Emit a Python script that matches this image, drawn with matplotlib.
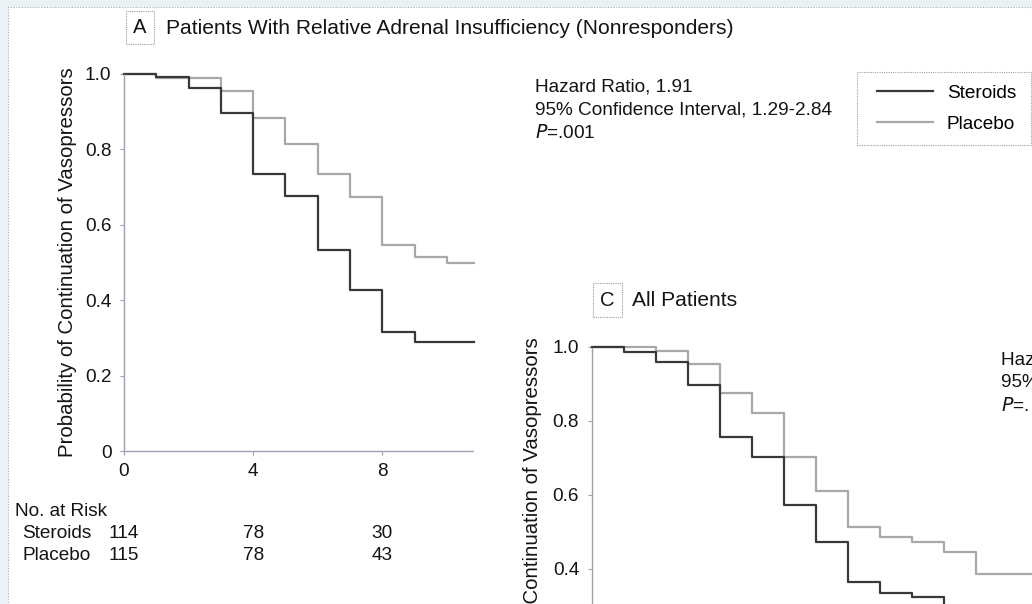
import numpy as np
import matplotlib
matplotlib.use("Agg")
import matplotlib.pyplot as plt
from matplotlib.lines import Line2D
from matplotlib.patches import Rectangle
from matplotlib.transforms import blended_transform_factory

plt.rcParams['font.family'] = ['Liberation Sans', 'DejaVu Sans']

# panel A: nonresponders
a_ster_days = [0, 1, 2, 3, 4, 5, 6, 7, 8, 9, 10.84]
a_ster_prob = [1.0, 0.991, 0.962, 0.896, 0.735, 0.677, 0.533, 0.427, 0.316, 0.288, 0.288]
a_plac_days = [0, 1, 3, 4, 5, 6, 7, 8, 9, 10, 10.84]
a_plac_prob = [1.0, 0.99, 0.956, 0.882, 0.814, 0.735, 0.675, 0.546, 0.515, 0.498, 0.498]

# panel C: all patients
c_ster_days = [0, 1, 2, 3, 4, 5, 6, 7, 8, 9, 10, 11, 12]
c_ster_prob = [1.0, 0.986, 0.958, 0.896, 0.757, 0.703, 0.572, 0.473, 0.363, 0.333, 0.324, 0.28, 0.28]
c_plac_days = [0, 2, 3, 4, 5, 6, 7, 8, 9, 10, 11, 12, 14]
c_plac_prob = [1.0, 0.989, 0.952, 0.876, 0.82, 0.703, 0.611, 0.512, 0.486, 0.473, 0.446, 0.386, 0.386]

risk_days = [0, 4, 8]
risk_steroids = [114, 78, 30]
risk_placebo = [115, 78, 43]

yticks = [0, 0.2, 0.4, 0.6, 0.8, 1.0]
ytick_labels = ['0', '0.2', '0.4', '0.6', '0.8', '1.0']
xticks = [0, 4, 8]

W, H = 1032, 604
ster_col = '#383838'
plac_col = '#a8a8a8'
axis_col = '#a0a0b4'
txt_col = '#141414'
fs = 13.7


def px(x, y):
    # pixel (from top-left) -> figure fraction
    return x / W, 1 - y / H


fig = plt.figure(figsize=(W / 100, H / 100), dpi=100)
fig.patch.set_facecolor('#e9f3f5')
fig.patches.append(Rectangle(px(8, 604), (W - 8) / W, (604 - 7) / H, transform=fig.transFigure,
                             fc='white', ec='#b0b0b0', lw=0.8, ls=(0, (1, 1.5)), zorder=-5))


def style_axes(ax, xmax):
    for s in ['top', 'right']:
        ax.spines[s].set_visible(False)
    for s in ['left', 'bottom']:
        ax.spines[s].set_color(axis_col)
        ax.spines[s].set_linewidth(1.0)
        ax.spines[s].set_linestyle((0, (1, 1)))
    ax.set_xlim(0, xmax)
    ax.set_ylim(0, 1.0)
    ax.set_yticks(yticks)
    ax.set_yticklabels(ytick_labels)
    ax.set_xticks(xticks)
    ax.tick_params(length=3, width=0.8, color=axis_col, labelsize=fs, labelcolor=txt_col, pad=6)
    ax.set_facecolor('none')
    ax.set_ylabel('Probability of Continuation of Vasopressors', fontsize=14.7, color=txt_col)


# ---- panel A
axA = fig.add_axes([124 / W, 1 - 451 / H, 350 / W, 377 / H])
style_axes(axA, 10.84)
axA.step(a_plac_days, a_plac_prob, where='post', color=plac_col, lw=1.6, clip_on=False)
axA.step(a_ster_days, a_ster_prob, where='post', color=ster_col, lw=1.6, clip_on=False)
axA.yaxis.set_label_coords(-0.135, 0.5)

fig.text(*px(140, 27.5), 'A', fontsize=14.5, ha='center', va='center', color=txt_col,
         bbox=dict(boxstyle='square,pad=0.36', fc='white', ec='#9a9a9a', lw=0.8, ls=(0, (1, 1))))
fig.text(*px(166, 28), 'Patients With Relative Adrenal Insufficiency (Nonresponders)',
         fontsize=15.1, ha='left', va='center', color=txt_col)

fig.text(*px(535, 79), 'Hazard Ratio, 1.91\n95% Confidence Interval, 1.29-2.84\n$P$=.001',
         fontsize=fs, ha='left', va='top', color=txt_col, linespacing=1.42)

# legend: frame drawn separately so the inner spacing matches
fig.patches.append(Rectangle(px(857, 145), 174 / W, 73 / H, transform=fig.transFigure,
                             fc='white', ec='#a0a0a0', lw=0.8, ls=(0, (1, 1)), zorder=1))
handles = [Line2D([], [], color=ster_col, lw=1.6), Line2D([], [], color=plac_col, lw=1.6)]
leg = fig.legend(handles, ['Steroids', 'Placebo'], loc='upper left', bbox_to_anchor=px(877, 84.5),
                 fontsize=fs, frameon=False, handlelength=2.95, handletextpad=0.72,
                 borderpad=0, labelspacing=0.72, borderaxespad=0)
leg.set_zorder(2)

tr = blended_transform_factory(axA.transData, fig.transFigure)
fig.text(*px(15, 511), 'No. at Risk', fontsize=fs, ha='left', va='center', color=txt_col)
fig.text(*px(22, 534), 'Steroids', fontsize=fs, ha='left', va='center', color=txt_col)
fig.text(*px(22, 556), 'Placebo', fontsize=fs, ha='left', va='center', color=txt_col)
for d, s, p in zip(risk_days, risk_steroids, risk_placebo):
    axA.text(d, 1 - 534 / H, str(s), transform=tr, fontsize=fs, ha='center', va='center', color=txt_col)
    axA.text(d, 1 - 556 / H, str(p), transform=tr, fontsize=fs, ha='center', va='center', color=txt_col)

# ---- panel C (cropped at bottom and right)
axC = fig.add_axes([591.7 / W, 1 - 716.7 / H, 448 / W, 370 / H])
style_axes(axC, 14)
axC.tick_params(axis='x', labelbottom=False)
axC.step(c_plac_days, c_plac_prob, where='post', color=plac_col, lw=1.6, clip_on=False)
axC.step(c_ster_days, c_ster_prob, where='post', color=ster_col, lw=1.6, clip_on=False)
axC.yaxis.set_label_coords(-0.112, 0.5)

fig.text(*px(607, 300), 'C', fontsize=14.5, ha='center', va='center', color=txt_col,
         bbox=dict(boxstyle='square,pad=0.36', fc='white', ec='#9a9a9a', lw=0.8, ls=(0, (1, 1))))
fig.text(*px(632, 300), 'All Patients', fontsize=15.1, ha='left', va='center', color=txt_col)
fig.text(*px(1001, 352), 'Hazard Ratio\n95% Confidence Interval\n$P$=.', fontsize=fs,
         ha='left', va='top', color=txt_col, linespacing=1.42)

fig.savefig('out.png', dpi=100, facecolor=fig.get_facecolor())
